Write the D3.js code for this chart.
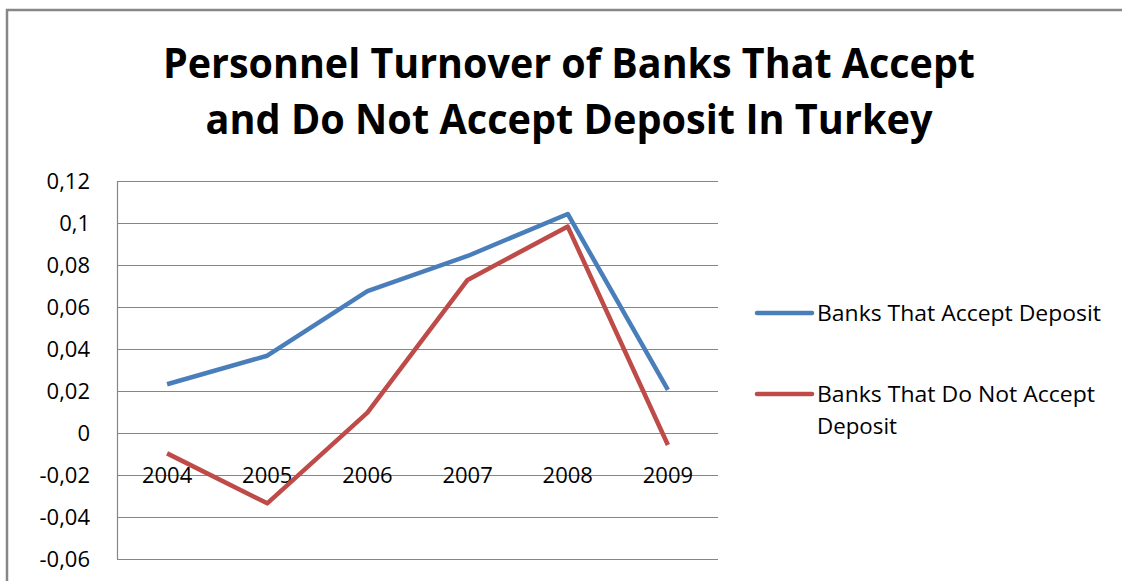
<!DOCTYPE html>
<html>
<head>
<meta charset="utf-8">
<script src="https://cdn.jsdelivr.net/npm/d3@7"></script>
<style>
    body { margin: 0; background: #ffffff; }
    svg { display: block; }
</style>
</head>
<body>
<div id="chart"></div>
<script>
// Chart data
const years = ['2004', '2005', '2006', '2007', '2008', '2009'];
const acceptDeposit = [0.0232, 0.0368, 0.0676, 0.0843, 0.1043, 0.0205];
const notAcceptDeposit = [-0.0097, -0.0335, 0.0097, 0.0729, 0.0983, -0.0057];
const yTicks = [-0.06, -0.04, -0.02, 0, 0.02, 0.04, 0.06, 0.08, 0.1, 0.12];
const seriesNames = ['Banks That Accept Deposit', 'Banks That Do Not Accept Deposit'];
const titleLines = ['Personnel Turnover of Banks That Accept', 'and Do Not Accept Deposit In Turkey'];

// Total size of the picture
const totalWidth = 1122;
const totalHeight = 581;

// Plot area inside the frame
const plot = { left: 117, right: 718, top: 181, bottom: 559 };
const colors = ['#4A7EBB', '#BE4B48'];
const gridColor = '#868686';
const font = '"Open Sans", "Liberation Sans", sans-serif';

const svg = d3
    .select('#chart')
    .append('svg')
    .attr('width', totalWidth)
    .attr('height', totalHeight);

// Outer chart frame (runs off the bottom and right of the picture)
svg.append('rect')
    .attr('x', 7)
    .attr('y', 10)
    .attr('width', 1130)
    .attr('height', 600)
    .attr('fill', '#ffffff')
    .attr('stroke', '#878787')
    .attr('stroke-width', 2.5);

// Title, two centred lines
const titleWidths = [812, 727];
svg.append('g')
    .selectAll('text')
    .data(titleLines)
    .join('text')
    .attr('x', 569)
    .attr('y', (d, i) => 78 + i * 56)
    .attr('text-anchor', 'middle')
    .attr('font-family', font)
    .attr('font-weight', 'bold')
    .attr('font-size', 41)
    .attr('fill', '#000000')
    .attr('textLength', (d, i) => titleWidths[i])
    .attr('lengthAdjust', 'spacingAndGlyphs')
    .text(d => d);

// Scales
const x = d3.scaleBand().domain(years).range([plot.left, plot.right]);
const y = d3.scaleLinear().domain([-0.06, 0.12]).range([plot.bottom, plot.top]);

// Y axis with gridlines
const yAxis = d3.axisLeft(y)
    .tickValues(yTicks)
    .tickSizeInner(-(plot.right - plot.left))
    .tickSizeOuter(0)
    .tickPadding(27)
    .tickFormat(d => String(+d.toFixed(2)).replace('.', ','));

const yAxisGroup = svg.append('g')
    .attr('transform', `translate(${plot.left}, 0)`)
    .call(yAxis);

yAxisGroup.select('.domain').attr('stroke', gridColor).attr('stroke-width', 1.2);
yAxisGroup.selectAll('.tick line').attr('stroke', gridColor).attr('stroke-width', 1.2);
yAxisGroup.selectAll('text')
    .attr('font-family', font)
    .attr('font-size', 22)
    .attr('fill', '#000000');

// Category axis sits on the zero line, labels only
const xAxisGroup = svg.append('g')
    .attr('transform', `translate(0, ${y(0)})`)
    .call(d3.axisBottom(x).tickSize(0).tickPadding(34));

xAxisGroup.select('.domain').remove();
xAxisGroup.selectAll('text')
    .attr('font-family', font)
    .attr('font-size', 22)
    .attr('fill', '#000000');

// Lines
const line = d3.line()
    .x((d, i) => x(years[i]) + x.bandwidth() / 2)
    .y(d => y(d));

[acceptDeposit, notAcceptDeposit].forEach((values, idx) => {
    svg.append('path')
        .datum(values)
        .attr('fill', 'none')
        .attr('stroke', colors[idx])
        .attr('stroke-width', 4.5)
        .attr('stroke-linejoin', 'round')
        .attr('d', line);
});

// Legend
const legend = svg.append('g');
const legendRows = [
    { lines: ['Banks That Accept Deposit'], widths: [284], y: 313 },
    { lines: ['Banks That Do Not Accept', 'Deposit'], widths: [278, 80], y: 394 },
];

legendRows.forEach((row, idx) => {
    legend.append('line')
        .attr('x1', 757)
        .attr('x2', 812)
        .attr('y1', row.y)
        .attr('y2', row.y)
        .attr('stroke', colors[idx])
        .attr('stroke-width', 4.5)
        .attr('stroke-linecap', 'round');

    row.lines.forEach((txt, j) => {
        legend.append('text')
            .attr('x', 817)
            .attr('y', row.y + 8 + j * 32)
            .attr('font-family', font)
            .attr('font-size', 21)
            .attr('fill', '#000000')
            .attr('textLength', row.widths[j])
            .attr('lengthAdjust', 'spacingAndGlyphs')
            .text(txt);
    });
});
</script>
</body>
</html>
